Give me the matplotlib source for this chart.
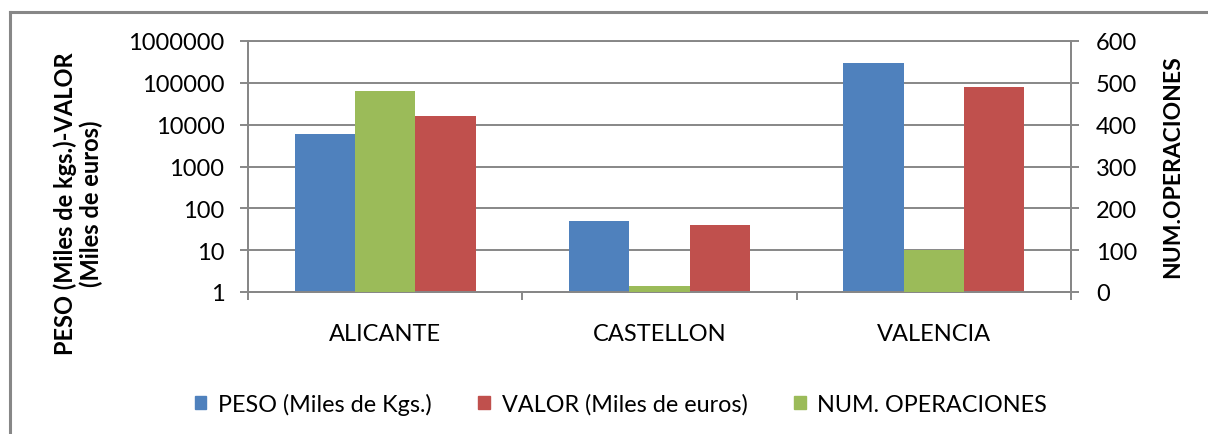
import numpy as np
import matplotlib
matplotlib.use("Agg")
import matplotlib.pyplot as plt
from matplotlib.patches import Patch
from matplotlib.lines import Line2D
from matplotlib.ticker import FixedLocator, NullLocator

plt.rcParams["font.family"] = ["Lato", "DejaVu Sans"]

provincias = ["ALICANTE", "CASTELLON", "VALENCIA"]
peso = [6000, 50, 300000]          # miles de kgs.
valor = [16000, 40, 80000]         # miles de euros
num_operaciones = [480, 15, 100]

c_peso = "#4F81BD"
c_valor = "#C0504D"
c_num = "#9BBB59"
gris = "#878787"

fig = plt.figure(figsize=(12.08, 4.35), dpi=100)
ax = fig.add_axes([248/1208, 1-293/435, (1071-248)/1208, (293-42)/435])
ax2 = ax.twinx()

x = np.arange(len(provincias))
w = 0.22
ax.bar(x - w, peso, w, color=c_peso, bottom=1, zorder=3)
ax.bar(x + w, valor, w, color=c_valor, bottom=1, zorder=3)
ax2.bar(x, num_operaciones, w, color=c_num, zorder=3)

ax.set_yscale("log")
ax.set_ylim(1, 1e6)
ax.set_xlim(-0.5, 2.5)
decadas = [1, 10, 100, 1000, 10000, 100000, 1000000]
ax.yaxis.set_major_locator(FixedLocator(decadas))
ax.yaxis.set_minor_locator(NullLocator())
ax.set_yticklabels([str(d) for d in decadas])
ax.grid(axis="y", color=gris, linewidth=1.4, zorder=0)
ax.set_axisbelow(True)

ax2.set_ylim(0, 600)
ax2.set_yticks(range(0, 601, 100))

ax.set_xticks(x)
ax.set_xticklabels(provincias)
ax.xaxis.set_minor_locator(FixedLocator([-0.5, 0.5, 1.5, 2.5]))
ax.tick_params(axis="x", which="major", length=0, pad=22, labelsize=17)
ax.tick_params(axis="x", which="minor", length=6, width=1.4, color=gris, direction="out")
ax.tick_params(axis="y", length=6, width=1.4, color=gris, pad=11, labelsize=17)
ax2.tick_params(axis="y", length=6, width=1.4, color=gris, pad=12, labelsize=17)

for a in (ax, ax2):
    a.spines["top"].set_visible(False)
    for s in ("left", "right", "bottom"):
        a.spines[s].set_color(gris)
        a.spines[s].set_linewidth(1.4)
ax.spines["top"].set_visible(True)
ax.spines["top"].set_color(gris)
ax.spines["top"].set_linewidth(1.4)

fig.text(78/1208, 1-204/435, "PESO (Miles de kgs.)-VALOR\n(Miles de euros)",
         rotation=90, ha="center", va="center", fontsize=17, fontweight="bold",
         linespacing=1.15)
fig.text(1173/1208, 1-167/435, "NUM.OPERACIONES", rotation=90, ha="center",
         va="center", fontsize=16.5, fontweight="bold")

handles = [Patch(color=c_peso), Patch(color=c_valor), Patch(color=c_num)]
labels = ["PESO (Miles de Kgs.)", "VALOR (Miles de euros)", "NUM. OPERACIONES"]
fig.legend(handles, labels, loc="center", bbox_to_anchor=(621/1208, 1-405/435),
           ncol=3, frameon=False, fontsize=16.8, handlelength=0.5, handleheight=0.5,
           handletextpad=0.5, columnspacing=2.0)

# marco del grafico
fig.add_artist(Line2D([10/1208, 10/1208], [0, 1-13/435], color=gris, linewidth=2.2))
fig.add_artist(Line2D([10/1208, 1], [1-13/435, 1-13/435], color=gris, linewidth=2.2))

fig.savefig("out.png", dpi=100)
